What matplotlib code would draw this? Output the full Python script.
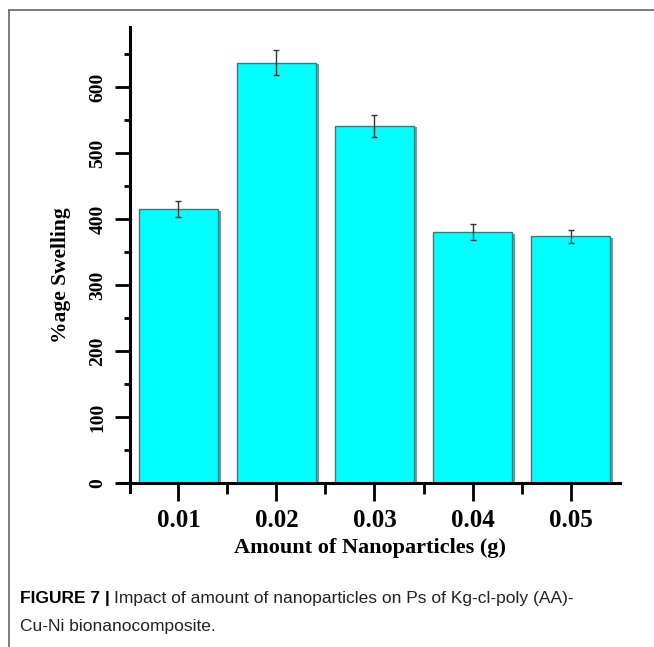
import matplotlib
matplotlib.use('Agg')
import matplotlib.pyplot as plt
import matplotlib.patheffects as pe
from matplotlib.lines import Line2D
import numpy as np

amounts = ['0.01', '0.02', '0.03', '0.04', '0.05']
swelling = [415, 637, 541, 380, 374]
errors = [12.5, 18.5, 16.5, 12, 10]

x = np.arange(1, len(amounts) + 1)

fig = plt.figure(figsize=(6.54, 6.47), dpi=100)
ax = fig.add_axes([119 / 654, 1 - 492 / 647, (620 - 119) / 654, (492 - 27) / 647])

bars = ax.bar(x, swelling, width=0.8, color='#00FFFF', edgecolor='#2E8080', linewidth=1.0, zorder=2)
for b in bars:
    b.set_path_effects([pe.SimplePatchShadow(offset=(2.5, -1), shadow_rgbFace='#6f8f8f', alpha=0.9),
                        pe.Normal()])
ax.errorbar(x, swelling, yerr=errors, fmt='none', ecolor='#333333', elinewidth=1.0,
            capsize=2.5, capthick=1.0, zorder=3)

ax.set_xlim(0.393, 5.505)
ax.set_ylim(-13.6, 691)

for s in ['top', 'right']:
    ax.spines[s].set_visible(False)
ax.spines['left'].set_position(('data', 0.505))
ax.spines['bottom'].set_position(('data', 0))
ax.spines['left'].set_linewidth(2.2)
ax.spines['bottom'].set_linewidth(2.2)

ax.set_xticks(x)
ax.set_xticklabels(amounts)
ax.set_xticks(x[:-1] + 0.5, minor=True)
ax.set_yticks(np.arange(0, 601, 100))
ax.set_yticks(np.arange(50, 651, 100), minor=True)

ax.tick_params(axis='both', which='major', direction='out', length=11, width=2)
ax.tick_params(axis='both', which='minor', direction='out', length=4, width=2)
ax.tick_params(axis='x', which='major', length=13, pad=6)
ax.tick_params(axis='x', which='minor', length=8)
ax.tick_params(axis='y', which='major', pad=6)

for lab in ax.get_xticklabels():
    lab.set_fontfamily('Liberation Serif')
    lab.set_fontweight('bold')
    lab.set_fontsize(18)
for lab in ax.get_yticklabels():
    lab.set_fontfamily('Liberation Serif')
    lab.set_fontweight('bold')
    lab.set_fontsize(14)
    lab.set_rotation(90)
    lab.set_va('center')

ax.set_xlabel('Amount of Nanoparticles (g)', fontfamily='Liberation Serif',
              fontweight='bold', fontsize=16, labelpad=4)
ax.set_ylabel('%age Swelling', fontfamily='Liberation Serif', fontweight='bold', fontsize=15.5)
ax.yaxis.set_label_coords(-0.096, 0.467)

# frame lines of the figure panel
fig.add_artist(Line2D([9 / 654, 9 / 654], [0, 1 - 10 / 647], color='#666666', lw=1.2))
fig.add_artist(Line2D([9 / 654, 1], [1 - 10 / 647, 1 - 10 / 647], color='#666666', lw=1.2))

# caption
t1 = fig.text(20 / 654, 1 - 599 / 647, 'FIGURE 7 |', fontfamily='Liberation Sans', fontweight='bold',
              fontsize=12.5, va='center', ha='left')
fig.canvas.draw()
bb = t1.get_window_extent()
fig.text((bb.x1 + 4) / 654, 1 - 599 / 647,
         'Impact of amount of nanoparticles on Ps of Kg-cl-poly (AA)-',
         fontfamily='Liberation Sans', fontsize=12.5, va='center', ha='left', color='#222222')
fig.text(20 / 654, 1 - 627 / 647, 'Cu-Ni bionanocomposite.',
         fontfamily='Liberation Sans', fontsize=12.5, va='center', ha='left', color='#222222')

fig.savefig('out.png', dpi=100)
